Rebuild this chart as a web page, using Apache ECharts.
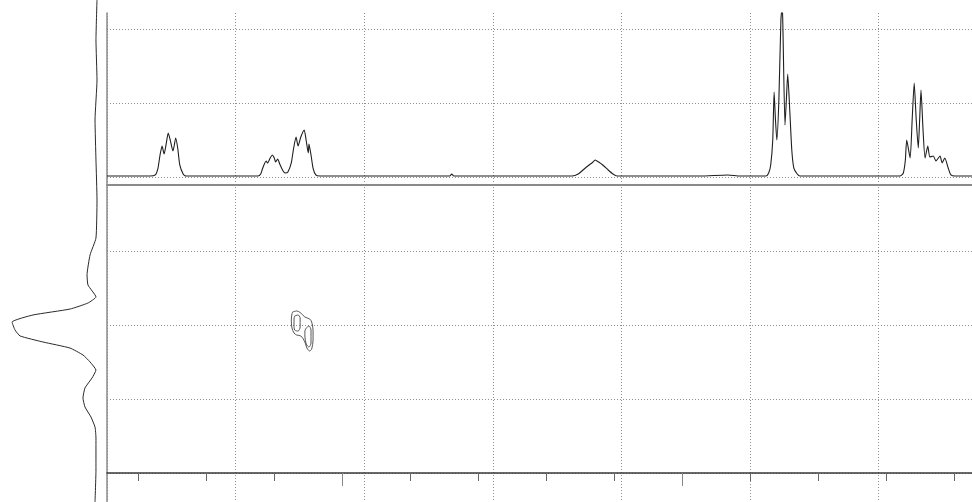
<!DOCTYPE html>
<html>
<head>
<meta charset="utf-8">
<script src="https://cdn.jsdelivr.net/npm/echarts@6/dist/echarts.min.js"></script>
<style>
  html, body { margin: 0; padding: 0; background: #ffffff; }
  #chart { width: 972px; height: 502px; }
</style>
</head>
<body>
<div id="chart"></div>
<script>
// F2 (direct dimension) chemical shift window, ppm — drawn high to low
const f2Range = [3.074, 4.346];
// F1 (indirect dimension) chemical shift window, ppm — drawn top to bottom
const f1Range = [3.06, 5.01];

// Tick marks along the F2 axis (ppm)
const f2MinorTicks = [4.3, 4.2, 4.1, 4.0, 3.9, 3.8, 3.7, 3.6, 3.5, 3.4, 3.3, 3.2, 3.1];
const f2MajorTicks = [4.0, 3.5];

// 1D proton spectrum along F2: [ppm, relative intensity]
const f2Spectrum = [
  [4.346, 0], [4.283, 0], [4.275, 0.014], [4.271, 0.108], [4.268, 0.284], [4.265, 0.405],
  [4.262, 0.297], [4.259, 0.432], [4.256, 0.581], [4.253, 0.486], [4.249, 0.338], [4.247, 0.419],
  [4.245, 0.514], [4.242, 0.378], [4.239, 0.149], [4.234, 0.027], [4.230, 0],
  [4.150, 0], [4.124, 0], [4.120, 0.027], [4.117, 0.108], [4.112, 0.203], [4.110, 0.176],
  [4.106, 0.243], [4.103, 0.284], [4.100, 0.243], [4.098, 0.189], [4.095, 0.230], [4.092, 0.162],
  [4.087, 0.068], [4.084, 0.041], [4.080, 0.054], [4.075, 0.176], [4.072, 0.351], [4.068, 0.527],
  [4.065, 0.405], [4.061, 0.527], [4.056, 0.622], [4.053, 0.473], [4.050, 0.311], [4.049, 0.432],
  [4.046, 0.284], [4.043, 0.108], [4.039, 0.014], [4.033, 0],
  [3.856, 0], [3.842, 0], [3.839, 0.027], [3.836, 0],
  [3.680, 0], [3.662, 0], [3.653, 0.027], [3.646, 0.081], [3.639, 0.135], [3.633, 0.176],
  [3.628, 0.216], [3.623, 0.189], [3.617, 0.149], [3.609, 0.081], [3.602, 0.027], [3.596, 0],
  [3.474, 0], [3.433, 0.014], [3.415, 0],
  [3.377, 0], [3.373, 0.041], [3.370, 0.149], [3.367, 0.486], [3.365, 1.135], [3.363, 0.757],
  [3.361, 0.486], [3.358, 1.027], [3.355, 2.108], [3.353, 2.311], [3.352, 1.973], [3.349, 0.689],
  [3.347, 1.027], [3.345, 1.378], [3.342, 0.892], [3.339, 0.351], [3.336, 0.108], [3.331, 0.027],
  [3.327, 0],
  [3.209, 0], [3.180, 0], [3.175, 0.041], [3.172, 0.216], [3.170, 0.486], [3.165, 0.243],
  [3.162, 0.757], [3.159, 1.257], [3.156, 0.757], [3.153, 0.378], [3.151, 0.757], [3.149, 1.162],
  [3.146, 0.622], [3.143, 0.243], [3.139, 0.405], [3.136, 0.257], [3.131, 0.270], [3.127, 0.203],
  [3.121, 0.270], [3.118, 0.176], [3.114, 0.243], [3.109, 0.108], [3.105, 0.014], [3.099, 0],
  [3.074, 0]
];

// Projection along F1: [relative intensity, ppm]
const f1Projection = [
  [0, 1.807], [0.012, 2.078], [0, 2.349], [0.023, 2.620], [0.012, 2.891], [0, 3.162],
  [0.012, 3.419], [0.081, 3.534], [0.116, 3.669], [0.105, 3.737], [0.012, 3.818], [0.105, 3.859],
  [0.314, 3.900], [0.744, 3.940], [0.988, 3.988], [0.953, 4.042], [0.895, 4.082], [0.628, 4.123],
  [0.314, 4.164], [0.163, 4.211], [0.081, 4.258], [0.012, 4.313], [0.058, 4.367], [0.140, 4.434],
  [0.163, 4.502], [0.140, 4.563], [0.070, 4.631], [0.023, 4.699], [0.012, 4.773], [0.012, 4.990],
  [0.023, 5.206]
];

// Cross-peak contour levels: [F2 ppm, F1 ppm]
const crossPeakOuter = [
  [4.073, 3.920], [4.067, 3.913], [4.061, 3.927], [4.055, 3.954], [4.048, 3.967], [4.045, 3.988],
  [4.043, 4.042], [4.043, 4.110], [4.045, 4.170], [4.048, 4.184], [4.052, 4.164], [4.055, 4.123],
  [4.061, 4.082], [4.067, 4.076], [4.071, 4.062], [4.074, 4.028], [4.075, 3.974], [4.074, 3.933],
  [4.073, 3.920]
];
const crossPeakInnerA = [
  [4.070, 3.947], [4.065, 3.940], [4.062, 3.961], [4.062, 4.021], [4.065, 4.049], [4.070, 4.042],
  [4.071, 4.008], [4.071, 3.967], [4.070, 3.947]
];
const crossPeakInnerB = [
  [4.053, 4.028], [4.049, 4.015], [4.046, 4.042], [4.046, 4.130], [4.049, 4.157], [4.053, 4.137],
  [4.055, 4.082], [4.055, 4.049], [4.053, 4.028]
];

// ---- layout ----
const W = 972, H = 502;
const plotLeft = 107;
const plotTop = 13;
const specBottom = 185;      // bottom edge of the 1D panel / top of the 2D panel
const mapBottom = 473;       // F2 axis line
const gridStepX = 128.6;     // spacing of the vertical guide lines
const gridTopLine = 29;      // first horizontal guide line
const gridRows = 6;
const specBaseline = 176;    // zero intensity of the 1D trace
const specUnit = 74;         // pixels per intensity unit in the 1D panel
const projBaseline = 97;     // zero intensity of the F1 projection
const projUnit = 86;         // pixels per intensity unit in the projection

const dotted = { color: '#8f8f8f', width: 1, type: [1, 2] };
const hidden = { show: false };

const chart = echarts.init(document.getElementById('chart'), null, { renderer: 'canvas' });

const plotW = W - plotLeft;
const specH = specBottom - plotTop;
const mapH = mapBottom - specBottom;

chart.setOption({
  animation: false,
  backgroundColor: '#ffffff',
  grid: [
    // vertical guide lines + left frame line
    { left: plotLeft, top: plotTop, width: plotW, height: H - plotTop },
    // horizontal guide lines
    { left: plotLeft, top: gridTopLine, width: plotW, height: mapBottom - gridTopLine },
    // 1D spectrum panel
    { left: plotLeft, top: plotTop, width: plotW, height: specH },
    // 2D map panel
    { left: plotLeft, top: specBottom, width: plotW, height: mapH },
    // F1 projection strip
    { left: 0, top: specBottom, width: plotLeft, height: mapH }
  ],
  xAxis: [
    {
      gridIndex: 0, type: 'value', min: 0, max: plotW / gridStepX, interval: 1,
      axisLine: hidden, axisTick: hidden, axisLabel: hidden,
      splitLine: { show: true, lineStyle: dotted }
    },
    {
      gridIndex: 1, type: 'value', min: 0, max: 1,
      axisLine: hidden, axisTick: hidden, axisLabel: hidden, splitLine: hidden
    },
    {
      gridIndex: 2, type: 'value', min: f2Range[0], max: f2Range[1], inverse: true,
      axisLine: { show: true, onZero: false, lineStyle: { color: '#8a8a8a', width: 2 } },
      axisTick: hidden, axisLabel: hidden, splitLine: hidden
    },
    {
      gridIndex: 3, type: 'value', min: f2Range[0], max: f2Range[1], inverse: true,
      position: 'bottom', offset: 0,
      axisLine: { show: true, onZero: false, lineStyle: { color: '#3a3a3a', width: 1.5 } },
      axisTick: { show: true, inside: false, length: 8, customValues: f2MinorTicks,
                  lineStyle: { color: '#666', width: 1 } },
      axisLabel: hidden, splitLine: hidden
    },
    {
      gridIndex: 3, type: 'value', min: f2Range[0], max: f2Range[1], inverse: true,
      position: 'bottom', offset: 0,
      axisLine: hidden,
      axisTick: { show: true, inside: false, length: 13, customValues: f2MajorTicks,
                  lineStyle: { color: '#888', width: 1 } },
      axisLabel: hidden, splitLine: hidden
    },
    {
      gridIndex: 4, type: 'value', inverse: true,
      min: (projBaseline - plotLeft) / projUnit, max: projBaseline / projUnit,
      axisLine: hidden, axisTick: hidden, axisLabel: hidden, splitLine: hidden
    }
  ],
  yAxis: [
    {
      gridIndex: 0, type: 'value', min: 0, max: 1,
      axisLine: { show: true, onZero: false, lineStyle: { color: '#8a8a8a', width: 1.5 } },
      axisTick: hidden, axisLabel: hidden, splitLine: hidden
    },
    {
      gridIndex: 1, type: 'value', min: 0, max: gridRows, interval: 1,
      axisLine: hidden, axisTick: hidden, axisLabel: hidden,
      splitLine: { show: true, lineStyle: dotted }
    },
    {
      gridIndex: 2, type: 'value',
      min: (specBaseline - specBottom) / specUnit, max: (specBaseline - plotTop) / specUnit,
      axisLine: hidden, axisTick: hidden, axisLabel: hidden, splitLine: hidden
    },
    {
      gridIndex: 3, type: 'value', min: f1Range[0], max: f1Range[1], inverse: true,
      axisLine: hidden, axisTick: hidden, axisLabel: hidden, splitLine: hidden
    },
    {
      gridIndex: 4, type: 'value', min: f1Range[0], max: f1Range[1], inverse: true,
      axisLine: hidden, axisTick: hidden, axisLabel: hidden, splitLine: hidden
    }
  ],
  series: [
    {
      type: 'line', name: 'F2 spectrum', xAxisIndex: 2, yAxisIndex: 2,
      data: f2Spectrum, showSymbol: false, smooth: 0.2, clip: true,
      lineStyle: { color: '#1e1e1e', width: 1.1 }
    },
    {
      type: 'line', name: 'F1 projection', xAxisIndex: 5, yAxisIndex: 4,
      data: f1Projection, showSymbol: false, smooth: 0.15, clip: false,
      lineStyle: { color: '#2a2a2a', width: 1 }
    },
    {
      type: 'line', name: 'contour outer', xAxisIndex: 3, yAxisIndex: 3,
      data: crossPeakOuter, showSymbol: false, smooth: 0.3,
      lineStyle: { color: '#555', width: 1 }
    },
    {
      type: 'line', name: 'contour inner a', xAxisIndex: 3, yAxisIndex: 3,
      data: crossPeakInnerA, showSymbol: false, smooth: 0.3,
      lineStyle: { color: '#555', width: 1 }
    },
    {
      type: 'line', name: 'contour inner b', xAxisIndex: 3, yAxisIndex: 3,
      data: crossPeakInnerB, showSymbol: false, smooth: 0.3,
      lineStyle: { color: '#555', width: 1 }
    }
  ]
});
</script>
</body>
</html>
